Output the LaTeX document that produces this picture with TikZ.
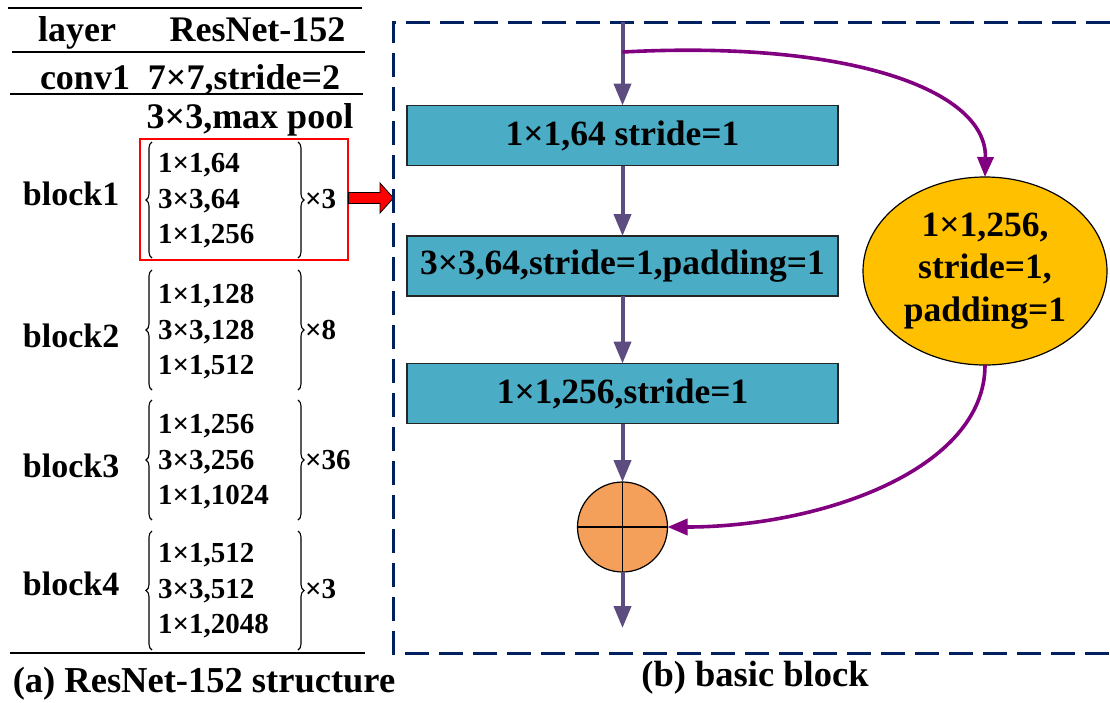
\documentclass[tikz,border=0pt]{standalone}
\usepackage{fontspec}
\setmainfont{Liberation Serif}
\usetikzlibrary{arrows.meta,shapes.geometric,decorations.pathreplacing,calc}

\definecolor{frameblue}{RGB}{0,32,96}
\definecolor{layerteal}{RGB}{75,172,198}
\definecolor{projgold}{RGB}{255,192,0}
\definecolor{sumorange}{RGB}{245,160,90}
\definecolor{flowgray}{RGB}{92,76,128}
\definecolor{skippurple}{RGB}{128,0,128}

\newcommand\txtsize[1]{\fontsize{#1}{#1}\selectfont}

\begin{document}
\begin{tikzpicture}[x=1pt,y=-1pt,
  every node/.style={inner sep=0pt, outer sep=0pt},
  hdr/.style={anchor=base, font=\bfseries\txtsize{36}},
  blk/.style={anchor=base west, font=\bfseries\txtsize{34}},
  cfg/.style={anchor=base west, font=\bfseries\txtsize{29}},
  rule/.style={line width=1.6pt},
  grp/.style={decorate, decoration={brace, amplitude=6pt, aspect=0.5}, line width=1.1pt},
  convbox/.style={rectangle, draw=black!85, line width=1.2pt, fill=layerteal,
    minimum width=431pt, minimum height=60pt, font=\bfseries\txtsize{35.5}},
  flow/.style={draw=flowgray, line width=4pt, -{Triangle[length=22pt,width=17pt]}},
  skip/.style={draw=skippurple, line width=3.6pt, -{Triangle[length=20pt,width=16pt]}},
  frameline/.style={draw=frameblue, line width=3pt, dash pattern=on 24pt off 10pt},
  caption/.style={anchor=base, font=\bfseries\txtsize{36.5}}
]
\useasboundingbox (0,0) rectangle (1110,702);

% ---------- (a) ResNet-152 table ----------
\draw[rule] (8,8) -- (362,8);
\node[hdr] (hlayer) at (77,41) {layer};
\node[hdr] (hnet) at (257.5,41) {ResNet-152};
\draw[rule] (12,52) -- (365,52);
\node[hdr] (conv) at (85,89) {conv1};
\node[hdr] (convcfg) at (244,89) {7×7,stride=2};
\draw[rule] (10,94) -- (363,94);
\node[hdr] (pool) at (250,128) {3×3,max pool};

% block1
\node[blk] (b1lab) at (23,205) {block1};
\node[cfg] (b1a) at (158,172.5) {1×1,64};
\node[cfg] (b1b) at (158,208) {3×3,64};
\node[cfg] (b1c) at (158,243.5) {1×1,256};
\node[cfg] (b1n) at (305,208) {×3};
\draw[grp] (152,258) -- (152,142);
\draw[grp] (298,142) -- (298,258);

% block2
\node[blk] (b2lab) at (23,347) {block2};
\node[cfg] (b2a) at (158,303.5) {1×1,128};
\node[cfg] (b2b) at (158,339) {3×3,128};
\node[cfg] (b2c) at (158,374.5) {1×1,512};
\node[cfg] (b2n) at (305,339) {×8};
\draw[grp] (152,390) -- (152,270);
\draw[grp] (298,270) -- (298,390);

% block3
\node[blk] (b3lab) at (23,477) {block3};
\node[cfg] (b3a) at (158,433.5) {1×1,256};
\node[cfg] (b3b) at (158,469) {3×3,256};
\node[cfg] (b3c) at (158,504.5) {1×1,1024};
\node[cfg] (b3n) at (305,469) {×36};
\draw[grp] (152,520) -- (152,400);
\draw[grp] (298,400) -- (298,520);

% block4
\node[blk] (b4lab) at (23,595) {block4};
\node[cfg] (b4a) at (158,562.5) {1×1,512};
\node[cfg] (b4b) at (158,598) {3×3,512};
\node[cfg] (b4c) at (158,633.5) {1×1,2048};
\node[cfg] (b4n) at (305,598) {×3};
\draw[grp] (152,650) -- (152,531);
\draw[grp] (298,531) -- (298,650);

\draw[rule] (10,653) -- (365,653);
\node[caption] (capa) at (204,692) {(a) ResNet-152 structure};

% highlighted block and pointer to the detailed view
\node[draw=red, line width=2pt, minimum width=208pt, minimum height=121pt] (sel) at (243.5,199.5) {};
\draw[fill=red, draw=black, line width=0.8pt]
  ($(sel.east)+(1,-7)$) -- ($(sel.east)+(32.5,-7)$) -- ($(sel.east)+(32.5,-16.5)$)
  -- ($(sel.east)+(46,-1.5)$) -- ($(sel.east)+(32.5,13.5)$) -- ($(sel.east)+(32.5,4)$)
  -- ($(sel.east)+(1,4)$) -- cycle;

% ---------- (b) basic block ----------
\draw[frameline] (1110,22) -- (393,22) -- (393,653) -- (1110,653);

\coordinate (in) at (622.5,22);
\coordinate (split) at (622.5,52);
\node[convbox] (c1) at (622.5,135.5) {1×1,64 stride=1};
\node[convbox] (c2) at (622.5,266) {3×3,64,stride=1,padding=1};
\node[convbox] (c3) at (622.5,393.5) {1×1,256,stride=1};
\node[circle, draw=black, line width=1.2pt, fill=sumorange, minimum size=90pt] (sum) at (622.5,527) {};
\draw[line width=1.2pt] (sum.north) -- (sum.south) (sum.west) -- (sum.east);
\coordinate (out) at (622.5,628);

\node[ellipse, draw=black, line width=1.2pt, fill=projgold, minimum width=244pt, minimum height=188pt,
  align=center, font=\bfseries\fontsize{35.5}{42.5}\selectfont] (proj) at (985,271)
  {1×1,256,\\stride=1,\\padding=1};

\draw[flow] (in) -- (c1);
\draw[flow] (c1) -- (c2);
\draw[flow] (c2) -- (c3);
\draw[flow] (c3) -- (sum);
\draw[flow] (sum) -- (out);

\draw[skip] (split) .. controls (850,40) and (987,90) .. (proj.north);
\draw[skip] (proj.south) .. controls (985,470) and (820,527) .. (sum.east);

\node[caption] (capb) at (755,686) {(b) basic block};
\end{tikzpicture}
\end{document}
